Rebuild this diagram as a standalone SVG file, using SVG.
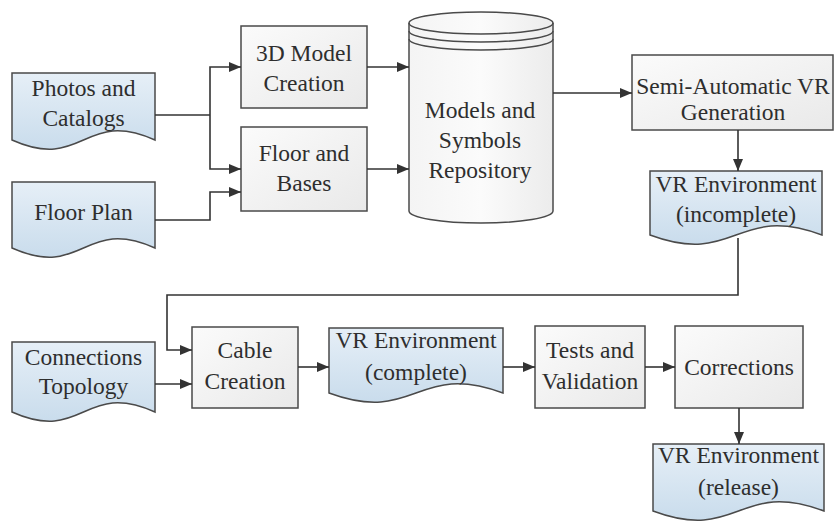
<svg xmlns="http://www.w3.org/2000/svg" width="835" height="523" viewBox="0 0 835 523">
<defs>
<linearGradient id="gBox" x1="0" y1="0" x2="1" y2="1">
<stop offset="0" stop-color="#fbfbfb"/>
<stop offset="1" stop-color="#e9e9e9"/>
</linearGradient>
<linearGradient id="gDoc" x1="0" y1="0" x2="0" y2="1">
<stop offset="0" stop-color="#e6eff7"/>
<stop offset="1" stop-color="#c9dcec"/>
</linearGradient>
<linearGradient id="gCyl" x1="0" y1="0" x2="1" y2="0">
<stop offset="0" stop-color="#f4f4f4"/>
<stop offset="0.5" stop-color="#fbfbfb"/>
<stop offset="1" stop-color="#ececec"/>
</linearGradient>
<marker id="arr" viewBox="0 0 10 10" refX="10" refY="5" markerWidth="7" markerHeight="7" markerUnits="userSpaceOnUse" orient="auto">
<path d="M0,0 L10,5 L0,10 Z" fill="#333"/>
</marker>
<marker id="arrow" viewBox="0 0 12 10" refX="12" refY="5" markerWidth="12" markerHeight="10" markerUnits="userSpaceOnUse" orient="auto">
<path d="M0,0 L12,5 L0,10 Z" fill="#333"/>
</marker>
</defs>
<style>
.box{fill:url(#gBox);stroke:#4a4a4a;stroke-width:1.5}
.doc{fill:url(#gDoc);stroke:#4a4a4a;stroke-width:1.5}
.cyl{fill:url(#gCyl);stroke:#4a4a4a;stroke-width:1.5}
.cl{fill:none;stroke:#4a4a4a;stroke-width:1.5}
.t{font-family:"Liberation Serif","Times New Roman",serif;font-size:23.5px;fill:#2e2e2e;text-anchor:middle}
.c{fill:none;stroke:#333;stroke-width:1.6}
.a{marker-end:url(#arrow)}
</style>
<rect width="835" height="523" fill="#ffffff"/>

<g id="photos">
<path class="doc" d="M12,73 H155 V140 C83.5,108 83.5,172 12,140 Z"/>
<text class="t" x="83.5" y="96">Photos and</text>
<text class="t" x="83.5" y="126">Catalogs</text>
</g>

<g id="floorplan">
<path class="doc" d="M12,182 H155 V248 C83.5,216 83.5,280 12,248 Z"/>
<text class="t" x="83.5" y="220">Floor Plan</text>
</g>

<g id="model3d">
<rect class="box" x="241" y="26" width="126" height="82"/>
<text class="t" x="304" y="61">3D Model</text>
<text class="t" x="304" y="91">Creation</text>
</g>

<g id="floorbases">
<rect class="box" x="241" y="127" width="126" height="84"/>
<text class="t" x="304" y="161">Floor and</text>
<text class="t" x="304" y="191">Bases</text>
</g>

<g id="repository">
<path class="cyl" d="M409,23 A72,11 0 0 1 553,23 V211 A72,12 0 0 1 409,211 Z"/>
<path class="cl" d="M409,23 A72,11 0 0 0 553,23"/>
<path class="cl" d="M409,31 A72,11 0 0 0 553,31"/>
<path class="cl" d="M409,39 A72,11 0 0 0 553,39"/>
<text class="t" x="480" y="118">Models and</text>
<text class="t" x="480" y="148">Symbols</text>
<text class="t" x="480" y="178">Repository</text>
</g>

<g id="semiauto">
<rect class="box" x="632" y="55" width="201" height="75"/>
<text class="t" x="733" y="94">Semi-Automatic VR</text>
<text class="t" x="733" y="120">Generation</text>
</g>

<g id="vrincomplete">
<path class="doc" d="M650,171 H822 V235 C736,203 736,267 650,235 Z"/>
<text class="t" x="736" y="192">VR Environment</text>
<text class="t" x="736" y="222">(incomplete)</text>
</g>

<g id="connections">
<path class="doc" d="M12,342 H155 V412 C83.5,380 83.5,444 12,412 Z"/>
<text class="t" x="83.5" y="365">Connections</text>
<text class="t" x="83.5" y="394">Topology</text>
</g>

<g id="cable">
<rect class="box" x="192" y="327" width="106" height="81"/>
<text class="t" x="245" y="358">Cable</text>
<text class="t" x="245" y="389">Creation</text>
</g>

<g id="vrcomplete">
<path class="doc" d="M329,328 H503 V393 C416,361 416,425 329,393 Z"/>
<text class="t" x="416" y="348">VR Environment</text>
<text class="t" x="416" y="380">(complete)</text>
</g>

<g id="tests">
<rect class="box" x="535" y="326" width="110" height="82"/>
<text class="t" x="590" y="358">Tests and</text>
<text class="t" x="590" y="389">Validation</text>
</g>

<g id="corrections">
<rect class="box" x="675" y="326" width="128" height="82"/>
<text class="t" x="739" y="375">Corrections</text>
</g>

<g id="vrrelease">
<path class="doc" d="M653,444 H824 V511 C738.5,479 738.5,543 653,511 Z"/>
<text class="t" x="738.5" y="463">VR Environment</text>
<text class="t" x="738.5" y="495">(release)</text>
</g>

<g id="connectors">
<path class="c" d="M155,115 H210"/>
<path class="c a" d="M210,115 V67 H241"/>
<path class="c a" d="M210,115 V169 H241"/>
<path class="c a" d="M155,220 H210 V192 H241"/>
<path class="c a" d="M367,67 H409"/>
<path class="c a" d="M367,169 H409"/>
<path class="c a" d="M553,93 H632"/>
<path class="c a" d="M738,130 V171"/>
<path class="c a" d="M738,238 V295 H167 V350 H192"/>
<path class="c a" d="M155,384 H192"/>
<path class="c a" d="M298,367 H329"/>
<path class="c a" d="M503,367 H535"/>
<path class="c a" d="M645,367 H675"/>
<path class="c a" d="M739,408 V444"/>
</g>
</svg>
